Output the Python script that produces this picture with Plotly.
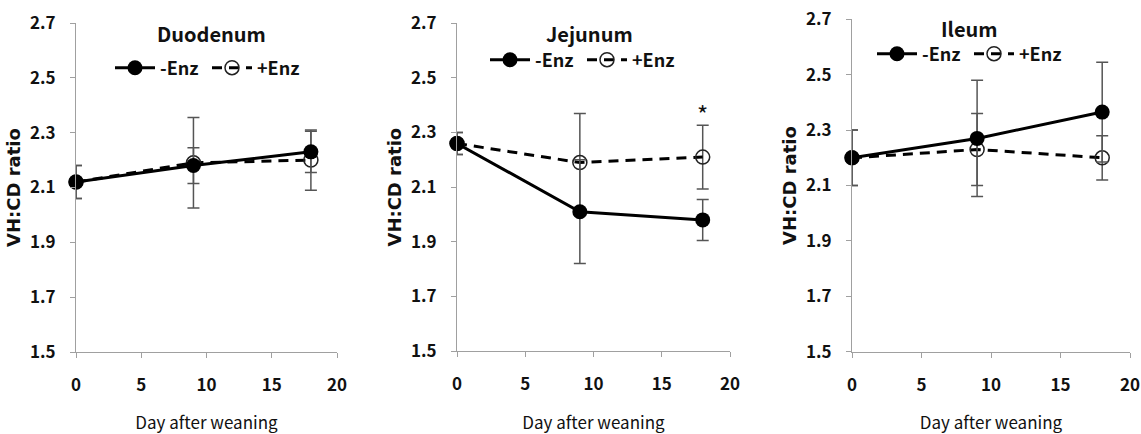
import plotly.graph_objects as go

# ---------------- data ----------------
days = [0, 9, 18]
panels = ["Duodenum", "Jejunum", "Ileum"]

duo_minus = [2.12, 2.18, 2.23]
duo_minus_err = [0.06, 0.065, 0.075]
duo_plus = [2.12, 2.19, 2.20]
duo_plus_err = [0.06, 0.165, 0.11]

jej_minus = [2.26, 2.01, 1.98]
jej_minus_err = [0.04, 0.19, 0.075]
jej_plus = [2.26, 2.19, 2.21]
jej_plus_err = [0.04, 0.18, 0.117]

ile_minus = [2.20, 2.27, 2.365]
ile_minus_err = [0.10, 0.21, 0.18]
ile_plus = [2.20, 2.23, 2.20]
ile_plus_err = [0.10, 0.13, 0.08]

minus_series = [duo_minus, jej_minus, ile_minus]
minus_errs = [duo_minus_err, jej_minus_err, ile_minus_err]
plus_series = [duo_plus, jej_plus, ile_plus]
plus_errs = [duo_plus_err, jej_plus_err, ile_plus_err]

y_ticks = [1.5, 1.7, 1.9, 2.1, 2.3, 2.5, 2.7]
x_ticks = [0, 5, 10, 15, 20]
x_title = "Day after weaning"
y_title = "VH:CD ratio"
signif_day = 18
signif_y = 2.37

# ---------------- layout geometry ----------------
W, H = 1141, 434
FONT = "Noto Sans CJK KR"
x_domains = [(76 / W, 337 / W), (457 / W, 730 / W), (852 / W, 1130 / W)]
y_domains = [(1 - 352 / H, 1 - 23 / H), (1 - 351 / H, 1 - 23.3 / H), (1 - 351.7 / H, 1 - 19.3 / H)]
title_pos = [(211, 33), (589, 33), (969, 29)]
legend_pos = [(110, 68), (485, 60), (872, 54)]

AXIS_COLOR = "#a0a0a0"
ERR_COLOR = "#555555"

fig = go.Figure()

for i in range(3):
    xa = "x" if i == 0 else f"x{i+1}"
    ya = "y" if i == 0 else f"y{i+1}"
    lg = "legend" if i == 0 else f"legend{i+1}"
    # +Enz first (drawn underneath)
    fig.add_trace(go.Scatter(
        x=days, y=plus_series[i], name="+Enz", mode="lines+markers",
        xaxis=xa, yaxis=ya, legend=lg, legendrank=2,
        line=dict(color="black", width=3, dash="10px,7px"),
        marker=dict(symbol="circle-open", size=14, color="#222222", line=dict(width=1.5)),
        error_y=dict(type="data", array=plus_errs[i], color=ERR_COLOR, thickness=1.5, width=6),
        cliponaxis=False,
    ))
    fig.add_trace(go.Scatter(
        x=days, y=minus_series[i], name="-Enz", mode="lines+markers",
        xaxis=xa, yaxis=ya, legend=lg, legendrank=1,
        line=dict(color="black", width=3),
        marker=dict(symbol="circle", size=15, color="black"),
        error_y=dict(type="data", array=minus_errs[i], color=ERR_COLOR, thickness=1.5, width=6),
        cliponaxis=False,
    ))

axis_common = dict(
    showline=True, linecolor=AXIS_COLOR, linewidth=1,
    ticks="outside", ticklen=5, tickcolor=AXIS_COLOR, tickwidth=1,
    showgrid=False, zeroline=False, fixedrange=True, automargin=False,
    tickfont=dict(family=FONT, size=17, color="#111111", weight="bold"),
)

layout = dict(
    width=W, height=H,
    margin=dict(l=0, r=0, t=0, b=0, autoexpand=False),
    paper_bgcolor="white", plot_bgcolor="white",
    font=dict(family=FONT, color="#111111"),
    showlegend=True,
    annotations=[],
)

for i in range(3):
    xk = "xaxis" if i == 0 else f"xaxis{i+1}"
    yk = "yaxis" if i == 0 else f"yaxis{i+1}"
    ya = "y" if i == 0 else f"y{i+1}"
    xa = "x" if i == 0 else f"x{i+1}"
    layout[xk] = dict(
        axis_common, domain=list(x_domains[i]), anchor=ya, range=[0, 20],
        tickvals=x_ticks, ticklabelstandoff=13,
        title=dict(text=x_title, standoff=24, font=dict(family=FONT, size=17, color="#111111")),
    )
    layout[yk] = dict(
        axis_common, domain=list(y_domains[i]), anchor=xa, range=[1.5, 2.7],
        tickvals=y_ticks, tickformat=".1f", ticklabelstandoff=11,
        title=dict(text=y_title, standoff=4,
                   font=dict(family="DejaVu Sans", size=18, color="#111111", weight="bold")),
    )
    lg = "legend" if i == 0 else f"legend{i+1}"
    lx, ly = legend_pos[i]
    layout[lg] = dict(
        x=lx / W, y=1 - ly / H, xref="paper", yref="paper",
        xanchor="left", yanchor="middle", orientation="h",
        bgcolor="rgba(0,0,0,0)", borderwidth=0,
        font=dict(family=FONT, size=18, color="#111111", weight="bold"),
        itemwidth=40, tracegroupgap=0,
        entrywidth=42, entrywidthmode="pixels",
    )
    tx, ty = title_pos[i]
    layout["annotations"].append(dict(
        text=panels[i], x=tx / W, y=1 - ty / H, xref="paper", yref="paper",
        showarrow=False, xanchor="center", yanchor="middle",
        font=dict(family=FONT, size=20, color="#111111", weight="bold"),
    ))

layout["annotations"].append(dict(
    text="*", x=signif_day, y=signif_y, xref="x2", yref="y2",
    showarrow=False, xanchor="center", yanchor="middle",
    font=dict(family=FONT, size=24, color="#111111"),
))

fig.update_layout(**layout)
fig.write_html("out.html")
